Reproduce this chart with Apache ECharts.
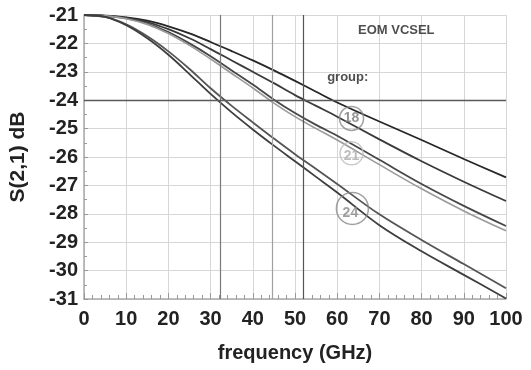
<!DOCTYPE html>
<html>
<head>
<meta charset="utf-8">
<script src="https://cdn.jsdelivr.net/npm/echarts@6/dist/echarts.min.js"></script>
<style>
  html, body { margin: 0; padding: 0; background: #fff; }
  #chart { width: 531px; height: 370px; }
</style>
</head>
<body>
<div id="chart"></div>
<script>
// frequency points (GHz)
const freq = [0, 5, 10, 15, 20, 25, 30, 35, 40, 45, 50, 55, 60, 70, 80, 90, 100];

// S21 traces (dB)
const curveA = [-21, -21.02, -21.08, -21.2, -21.4, -21.65, -21.95, -22.27, -22.6, -22.95, -23.32, -23.7, -24.08, -24.75, -25.4, -26.07, -26.72];
const curveB = [-21, -21.03, -21.1, -21.25, -21.5, -21.82, -22.2, -22.6, -23.0, -23.4, -23.82, -24.2, -24.58, -25.38, -26.15, -26.87, -27.55];
const curveC = [-21, -21.03, -21.12, -21.3, -21.6, -22.0, -22.45, -22.95, -23.45, -23.98, -24.45, -24.87, -25.25, -26.1, -26.95, -27.72, -28.43];
const curveD = [-21, -21.03, -21.13, -21.33, -21.65, -22.07, -22.55, -23.06, -23.57, -24.1, -24.58, -25.0, -25.4, -26.27, -27.12, -27.9, -28.6];
const curveE = [-21, -21.07, -21.33, -21.75, -22.28, -22.9, -23.58, -24.2, -24.78, -25.35, -25.9, -26.42, -26.95, -28.02, -28.92, -29.77, -30.62];
const curveF = [-21, -21.07, -21.36, -21.82, -22.4, -23.08, -23.78, -24.43, -25.03, -25.6, -26.15, -26.7, -27.25, -28.4, -29.32, -30.15, -30.98];

// marker lines
const bandwidthMarks = [32.4, 44.6, 51.9];
const levelMark = -24;

// group annotations
const groupNames = ['18', '21', '24'];
const groupFreq = [63.4, 63.4, 63.6];
const groupLevel = [-24.64, -25.87, -27.81];

const xTicks = [0, 100, 10];
const yTicks = [-31, -21, 1];

const chart = echarts.init(document.getElementById('chart'));

const FONT = '"Liberation Sans", Arial, sans-serif';

const pair = arr => freq.map((f, i) => [f, arr[i]]);

const traces = [
  { data: curveA, color: '#262626', width: 1.8 },
  { data: curveB, color: '#3a3a3a', width: 1.8 },
  { data: curveC, color: '#474747', width: 1.8 },
  { data: curveD, color: '#9a9a9a', width: 1.6 },
  { data: curveE, color: '#555555', width: 1.8 },
  { data: curveF, color: '#3e3e3e', width: 1.8 }
];

const circleStyle = [
  { border: '#8a8a8a', text: '#7a7a7a', size: 24, offset: [0, 0] },
  { border: '#bdbdbd', text: '#ababab', size: 23, offset: [0, 3] },
  { border: '#8a8a8a', text: '#8a8a8a', size: 32, offset: [-2, 5] }
];

const series = traces.map(t => ({
  type: 'line',
  data: pair(t.data),
  smooth: 0.35,
  symbol: 'none',
  lineStyle: { color: t.color, width: t.width },
  z: 3
}));

// vertical bandwidth markers + horizontal -24 dB line
series.push({
  type: 'line',
  data: [],
  silent: true,
  markLine: {
    symbol: 'none',
    label: { show: false },
    animation: false,
    data: [
      { xAxis: bandwidthMarks[0], lineStyle: { color: '#7a7a7a', width: 1.2, type: 'solid' } },
      { xAxis: bandwidthMarks[1], lineStyle: { color: '#a0a0a0', width: 1.2, type: 'solid' } },
      { xAxis: bandwidthMarks[2], lineStyle: { color: '#555555', width: 1.2, type: 'solid' } },
      { yAxis: levelMark, lineStyle: { color: '#5a5a5a', width: 1.4, type: 'solid' } }
    ]
  },
  z: 2
});

// group circles
series.push({
  type: 'scatter',
  silent: true,
  data: groupNames.map((n, i) => ({
    value: [groupFreq[i], groupLevel[i]],
    name: n,
    symbolSize: circleStyle[i].size,
    itemStyle: { color: 'rgba(255,255,255,0)', borderColor: circleStyle[i].border, borderWidth: 1.5 },
    label: { color: circleStyle[i].text, offset: circleStyle[i].offset }
  })),
  label: {
    show: true,
    position: 'inside',
    formatter: p => p.name,
    fontFamily: FONT,
    fontWeight: 'bold',
    fontSize: 14
  },
  z: 5
});

// text annotations
series.push({
  type: 'scatter',
  silent: true,
  symbolSize: 0,
  data: [
    { value: [74, -21.53], name: 'EOM VCSEL' },
    { value: [62.5, -23.2], name: 'group:' }
  ],
  label: {
    show: true,
    position: 'inside',
    formatter: p => p.name,
    fontFamily: FONT,
    fontWeight: 'bold',
    fontSize: 13,
    color: '#222'
  },
  z: 5
});

chart.setOption({
  animation: false,
  backgroundColor: '#fff',
  grid: { left: 84, right: 25, top: 15, bottom: 71, containLabel: false },
  xAxis: {
    type: 'value',
    min: xTicks[0],
    max: xTicks[1],
    interval: xTicks[2],
    name: 'frequency (GHz)',
    nameLocation: 'middle',
    nameGap: 44,
    nameTextStyle: { fontFamily: FONT, fontWeight: 'bold', fontSize: 20, color: '#222' },
    axisLine: { show: true, onZero: false, lineStyle: { color: '#aaa', width: 1.5 } },
    axisTick: { show: true, inside: true, length: 6, lineStyle: { color: '#999' } },
    minorTick: { show: true, splitNumber: 5, length: 4, lineStyle: { color: '#999' } },
    axisLabel: { fontFamily: FONT, fontWeight: 'bold', fontSize: 20, color: '#222', margin: 10 },
    splitLine: { show: true, lineStyle: { color: '#d6d6d6', width: 1 } }
  },
  yAxis: {
    type: 'value',
    min: yTicks[0],
    max: yTicks[1],
    interval: yTicks[2],
    name: 'S(2,1) dB',
    nameLocation: 'middle',
    nameGap: 55,
    nameTextStyle: { fontFamily: FONT, fontWeight: 'bold', fontSize: 21, color: '#222' },
    axisLine: { show: true, onZero: false, lineStyle: { color: '#aaa', width: 1.5 } },
    axisTick: { show: true, inside: true, length: 4, lineStyle: { color: '#999' } },
    minorTick: { show: true, splitNumber: 2, length: 3, lineStyle: { color: '#999' } },
    axisLabel: { fontFamily: FONT, fontWeight: 'bold', fontSize: 20, color: '#222', margin: 6 },
    splitLine: { show: true, lineStyle: { color: '#d6d6d6', width: 1 } }
  },
  series: series
});
</script>
</body>
</html>
